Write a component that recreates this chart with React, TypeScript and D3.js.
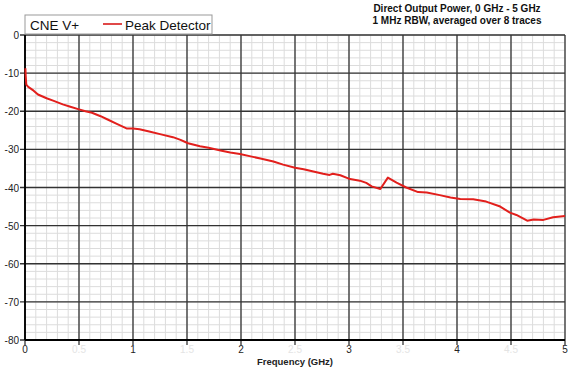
import React from "react";
import * as d3 from "d3";

const freqGHz = [0.004, 0.006, 0.012, 0.03, 0.08, 0.12, 0.2, 0.26, 0.35, 0.42, 0.5, 0.56, 0.62, 0.7, 0.76, 0.85, 0.94, 1.0, 1.06, 1.15, 1.25, 1.37, 1.44, 1.51, 1.62, 1.7, 1.81, 1.9, 1.99, 2.1, 2.18, 2.3, 2.39, 2.5, 2.58, 2.67, 2.76, 2.82, 2.85, 2.92, 3.01, 3.1, 3.16, 3.21, 3.29, 3.36, 3.44, 3.53, 3.64, 3.72, 3.84, 3.94, 4.03, 4.15, 4.27, 4.4, 4.49, 4.55, 4.65, 4.71, 4.8, 4.89, 5.0];
const powerDb = [-8.7, -10.5, -13.0, -13.6, -14.6, -15.6, -16.6, -17.2, -18.2, -18.8, -19.5, -20.0, -20.4, -21.3, -22.1, -23.3, -24.5, -24.5, -24.7, -25.3, -26.0, -26.8, -27.5, -28.4, -29.2, -29.6, -30.3, -30.8, -31.2, -31.9, -32.4, -33.2, -34.0, -34.8, -35.2, -35.8, -36.4, -36.7, -36.4, -36.8, -37.8, -38.2, -38.8, -39.7, -40.4, -37.4, -38.7, -40.0, -41.2, -41.3, -42.0, -42.6, -43.0, -43.1, -43.7, -45.0, -46.6, -47.2, -48.7, -48.4, -48.5, -47.8, -47.5];

const xTickLabels = ["0", "1", "2", "3", "4", "5"];
const xHalfLabels = ["0.5", "1.5", "2.5", "3.5", "4.5"];
const yTickLabels = ["0", "-10", "-20", "-30", "-40", "-50", "-60", "-70", "-80"];
const titleLines = ["Direct Output Power, 0 GHz - 5 GHz", "1 MHz RBW, averaged over 8 traces"];
const legendTitle = "CNE V+";
const seriesName = "Peak Detector";
const xAxisTitle = "Frequency (GHz)";

const W = 570, H = 380;
const L = 25, R = 565, T = 35, B = 340;

export default function App() {
  const x = d3.scaleLinear().domain([0, 5]).range([L, R]);
  const y = d3.scaleLinear().domain([-80, 0]).range([B, T]);
  const font = "Arial, 'Liberation Sans', sans-serif";

  const minorX = d3.range(0, 50.001, 1).map((i) => i / 10);
  const minorY = d3.range(-80, 0.001, 2);
  const majorX = d3.range(0, 10.001, 1).map((i) => i / 2);
  const majorY = d3.range(-80, 0.001, 10);

  const line = d3
    .line<number>()
    .x((_, i) => x(freqGHz[i]))
    .y((d) => y(d));

  return (
    <svg width={W} height={H} style={{ position: "absolute", left: 0, top: 0, background: "#fff" }} fontFamily={font}>
      <rect x={0} y={0} width={W} height={H} fill="#fff" />
      {minorX.map((v, i) => (
        <line key={"mx" + i} x1={x(v)} x2={x(v)} y1={T} y2={B} stroke="#dcdcdc" strokeWidth={1} />
      ))}
      {minorY.map((v, i) => (
        <line key={"my" + i} x1={L} x2={R} y1={y(v)} y2={y(v)} stroke="#dcdcdc" strokeWidth={1} />
      ))}
      {majorX.map((v, i) => (
        <line key={"Mx" + i} x1={x(v)} x2={x(v)} y1={T} y2={B + 5} stroke="#333" strokeWidth={1.3} />
      ))}
      {majorY.map((v, i) => (
        <line key={"My" + i} x1={L - 5} x2={R} y1={y(v)} y2={y(v)} stroke="#333" strokeWidth={1.3} />
      ))}
      <line x1={L} x2={L} y1={T} y2={B} stroke="#000" strokeWidth={1.8} />
      <line x1={L} x2={R} y1={B} y2={B} stroke="#000" strokeWidth={1.8} />

      {yTickLabels.map((t, i) => (
        <text key={"yl" + i} x={L - 6} y={y(+t) + 4} textAnchor="end" fontSize={10} fill="#222">
          {t}
        </text>
      ))}
      {xTickLabels.map((t, i) => (
        <text key={"xl" + i} x={x(+t)} y={B + 13} textAnchor="middle" fontSize={10} fill="#222">
          {t}
        </text>
      ))}
      {xHalfLabels.map((t, i) => (
        <text key={"xh" + i} x={x(+t)} y={B + 13} textAnchor="middle" fontSize={10} fill="#e4e4e4">
          {t}
        </text>
      ))}
      <text x={295} y={365} textAnchor="middle" fontSize={9.5} fontWeight="bold" fill="#222">
        {xAxisTitle}
      </text>

      <path d={line(powerDb) || ""} fill="none" stroke="#e21f1c" strokeWidth={2} strokeLinejoin="round" />

      <rect x={L} y={15} width={187} height={19} fill="#fff" stroke="#999" strokeWidth={1} />
      <text x={30} y={30} fontSize={13.5} fill="#111">
        {legendTitle}
      </text>
      <line x1={103} x2={122} y1={24} y2={24} stroke="#e04848" strokeWidth={2} />
      <text x={125} y={30} fontSize={13.5} fill="#111">
        {seriesName}
      </text>

      {titleLines.map((t, i) => (
        <text key={"t" + i} x={457} y={12 + i * 11.5} textAnchor="middle" fontSize={10} fontWeight="bold" fill="#111">
          {t}
        </text>
      ))}
    </svg>
  );
}
